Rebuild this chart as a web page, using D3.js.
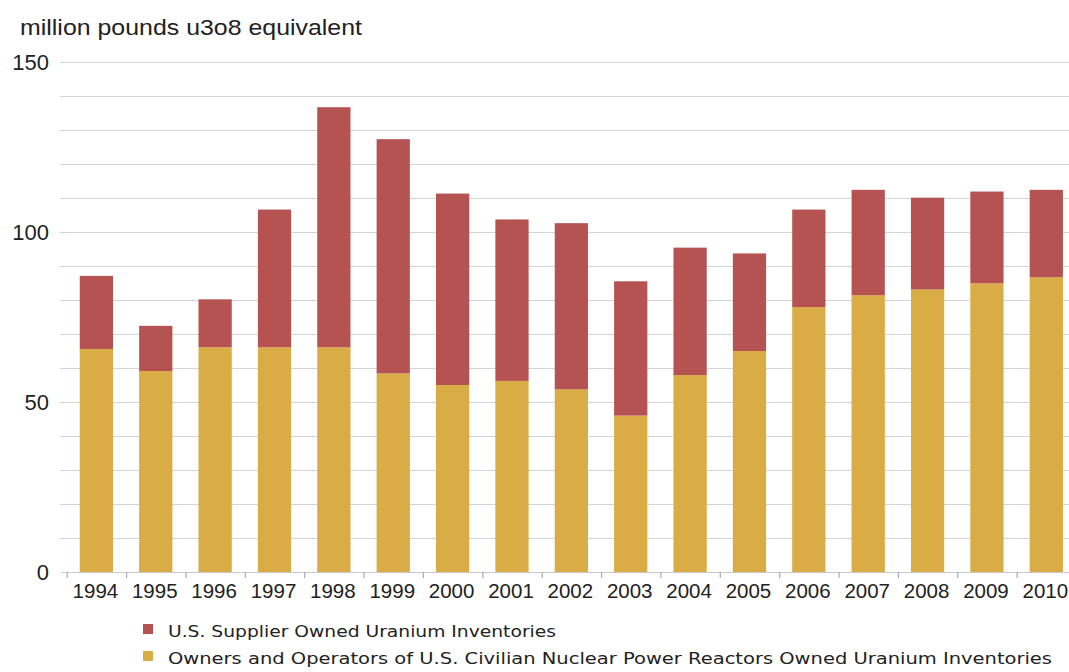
<!DOCTYPE html>
<html>
<head>
<meta charset="utf-8">
<script src="https://cdn.jsdelivr.net/npm/d3@7"></script>
<style>
  html, body { margin: 0; padding: 0; background: #ffffff; }
  svg { display: block; }
</style>
</head>
<body>
<svg id="chart" width="1069" height="672"></svg>
<script>
// Uranium inventories at year end, million pounds U3O8 equivalent
const years = ["1994","1995","1996","1997","1998","1999","2000","2001","2002","2003","2004","2005","2006","2007","2008","2009","2010"];
const ownersOperators = [65.6, 59.1, 66.1, 66.1, 66.1, 58.4, 55.0, 56.2, 53.7, 46.0, 57.9, 65.0, 77.9, 81.4, 83.1, 84.9, 86.7];
const suppliers = [21.5, 13.3, 14.1, 40.5, 70.6, 68.9, 56.3, 47.5, 48.9, 39.5, 37.5, 28.7, 28.7, 31.0, 27.0, 27.0, 25.7];
const yTickLabels = [0, 50, 100, 150];
const gridValues = d3.range(10, 151, 10);
const seriesNames = [
  "U.S. Supplier Owned Uranium Inventories",
  "Owners and Operators of U.S. Civilian Nuclear Power Reactors Owned Uranium Inventories"
];

const svg = d3.select("#chart");
const font = "'Liberation Sans', Arial, sans-serif";
const colRed = "#b55352";
const colGold = "#d9ac45";

const x = d3.scaleBand()
  .domain(years)
  .range([66.7, 1076])
  .paddingInner(0.44)
  .paddingOuter(0.22);

const y = d3.scaleLinear().domain([0, 150]).range([572, 62]);

// horizontal grid
svg.append("g")
  .selectAll("line")
  .data(gridValues)
  .join("line")
  .attr("x1", 60).attr("x2", 1069)
  .attr("y1", d => y(d) + 0.5).attr("y2", d => y(d) + 0.5)
  .attr("stroke", "#d4d4d4").attr("stroke-width", 1.2);

// stacked bars
const rows = years.map((yr, i) => ({ year: yr, owners: ownersOperators[i], suppliers: suppliers[i] }));
const stack = d3.stack().keys(["owners", "suppliers"])(rows);
const colours = { owners: colGold, suppliers: colRed };

svg.append("g")
  .selectAll("g")
  .data(stack)
  .join("g")
  .attr("fill", d => colours[d.key])
  .selectAll("rect")
  .data(d => d)
  .join("rect")
  .attr("x", d => x(d.data.year))
  .attr("width", x.bandwidth())
  .attr("y", d => y(d[1]))
  .attr("height", d => y(d[0]) - y(d[1]));

// x axis: baseline with ticks at band boundaries
const axisG = svg.append("g");
axisG.append("line")
  .attr("x1", 62).attr("x2", 1069)
  .attr("y1", 572.5).attr("y2", 572.5)
  .attr("stroke", "#c8c8cc").attr("stroke-width", 1.2);
axisG.selectAll("line.tick")
  .data(years)
  .join("line")
  .attr("class", "tick")
  .attr("x1", d => x(d) - x.step() * x.paddingOuter() + 0.5)
  .attr("x2", d => x(d) - x.step() * x.paddingOuter() + 0.5)
  .attr("y1", 572).attr("y2", 578)
  .attr("stroke", "#a8acb8").attr("stroke-width", 1.2);
axisG.selectAll("text")
  .data(years)
  .join("text")
  .attr("x", d => x(d) + x.bandwidth() / 2 - 1)
  .attr("y", 598)
  .attr("text-anchor", "middle")
  .attr("font-family", font)
  .attr("font-size", 20.5)
  .attr("fill", "#222")
  .text(d => d);

// y tick labels
svg.append("g")
  .selectAll("text")
  .data(yTickLabels)
  .join("text")
  .attr("x", 49)
  .attr("y", d => y(d))
  .attr("dy", "0.36em")
  .attr("text-anchor", "end")
  .attr("font-family", font)
  .attr("font-size", 22)
  .attr("fill", "#222")
  .text(d => d);

// unit title
svg.append("text")
  .attr("x", 20).attr("y", 35)
  .attr("font-family", font)
  .attr("font-size", 22)
  .attr("fill", "#222")
  .attr("textLength", 342)
  .attr("lengthAdjust", "spacingAndGlyphs")
  .text("million pounds u3o8 equivalent");

// legend
const legend = svg.append("g");
const legendItems = [
  { name: seriesNames[0], colour: colRed, width: 388 },
  { name: seriesNames[1], colour: colGold, width: 884 }
];
legendItems.forEach((item, i) => {
  const top = 624 + i * 27;
  legend.append("rect")
    .attr("x", 143).attr("y", top)
    .attr("width", 10).attr("height", 10)
    .attr("fill", item.colour);
  legend.append("text")
    .attr("x", 168).attr("y", top + 13)
    .attr("font-family", "'DejaVu Sans', Verdana, sans-serif")
    .attr("font-size", 16)
    .attr("fill", "#222")
    .attr("textLength", item.width)
    .attr("lengthAdjust", "spacingAndGlyphs")
    .text(item.name);
});
</script>
</body>
</html>
